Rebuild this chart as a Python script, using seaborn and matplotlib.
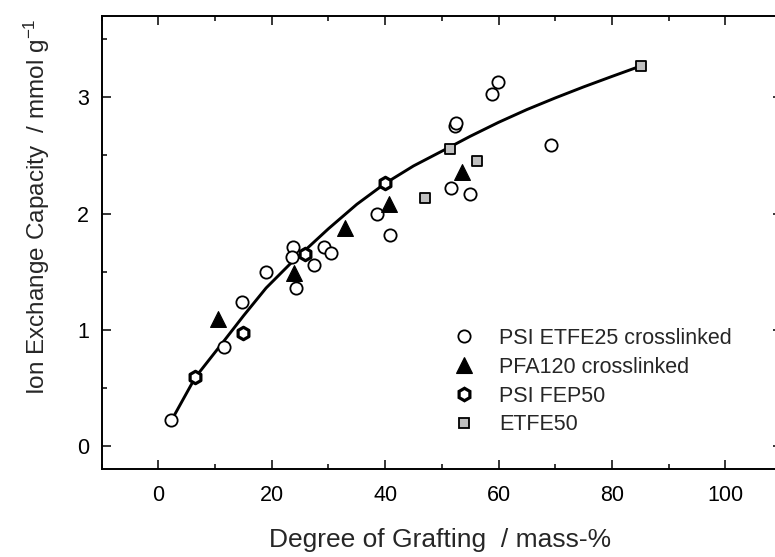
import matplotlib
matplotlib.use("Agg")
import matplotlib.pyplot as plt
from matplotlib.lines import Line2D
import pandas as pd
import seaborn as sns

# Measured ion exchange capacity vs. degree of grafting
psi_etfe25_x = [2.3, 11.5, 14.8, 18.9, 23.8, 23.5, 24.2, 27.5, 29.3, 30.4,
                38.6, 40.8, 51.6, 54.9, 52.3, 52.5, 58.9, 59.9, 69.2]
psi_etfe25_y = [0.22, 0.85, 1.24, 1.50, 1.71, 1.63, 1.36, 1.56, 1.71, 1.66,
                2.00, 1.82, 2.22, 2.17, 2.75, 2.78, 3.03, 3.13, 2.59]
pfa120_x = [10.6, 23.9, 32.9, 40.6, 53.6]
pfa120_y = [1.09, 1.49, 1.88, 2.08, 2.36]
fep50_x = [6.5, 14.9, 25.9, 40.0]
fep50_y = [0.59, 0.97, 1.65, 2.26]
etfe50_x = [47.0, 51.5, 56.2, 85.1]
etfe50_y = [2.13, 2.56, 2.45, 3.27]

# Trend line
fit_x = [2.3, 6.5, 11.5, 15.0, 19.0, 23.5, 26.0, 30.0, 35.0, 40.0, 45.0,
         51.5, 55.0, 60.0, 65.0, 70.0, 75.0, 80.0, 85.1]
fit_y = [0.22, 0.59, 0.90, 1.12, 1.36, 1.58, 1.69, 1.87, 2.08, 2.26, 2.41,
         2.575, 2.665, 2.785, 2.895, 2.995, 3.09, 3.18, 3.27]

series_labels = ["PSI ETFE25 crosslinked", "PFA120 crosslinked", "PSI FEP50", "ETFE50"]
x_ticks = [0, 20, 40, 60, 80, 100]
y_ticks = [0, 1, 2, 3]

sns.set_theme(style="ticks")
plt.rcParams["font.family"] = ["Liberation Sans", "DejaVu Sans"]
plt.rcParams["mathtext.default"] = "regular"

W, H = 775, 557
fig = plt.figure(figsize=(W / 100, H / 100), dpi=100)
ax = fig.add_axes([101.7 / W, 1 - 469.3 / H, (782 - 101.7) / W, (469.3 - 16) / H])

fit_df = pd.DataFrame({"x": fit_x, "y": fit_y})
sns.lineplot(data=fit_df, x="x", y="y", sort=False, color="black", lw=2.1,
             ax=ax, zorder=2)

styles = [
    dict(marker="o", s=78, facecolor="white", edgecolor="black", linewidth=1.3),
    dict(marker="^", s=130, facecolor="black", edgecolor="black", linewidth=0.8),
    dict(marker="h", s=80, facecolor="white", edgecolor="black", linewidth=2.3),
    dict(marker="s", s=62, facecolor="#c0c0c0", edgecolor="black", linewidth=1.3),
]
data = [(psi_etfe25_x, psi_etfe25_y), (pfa120_x, pfa120_y),
        (fep50_x, fep50_y), (etfe50_x, etfe50_y)]
for (xs, ys), st in zip(data, styles):
    df = pd.DataFrame({"x": xs, "y": ys})
    sns.scatterplot(data=df, x="x", y="y", ax=ax, zorder=3, **st)

ax.set_xticks(x_ticks)
ax.set_yticks(y_ticks)
ax.set_xticks([v + 10 for v in [-20] + x_ticks], minor=True)
ax.set_yticks([-0.5, 0.5, 1.5, 2.5, 3.5], minor=True)
ax.set_xlim(-10, 110)
ax.set_ylim(-0.2, 3.7)
ax.tick_params(which="both", direction="in", top=True, right=True,
               width=1.1, color="black")
ax.tick_params(which="major", length=6.5, labelsize=15.5, pad=11, labelcolor="black")
ax.tick_params(axis="y", which="major", pad=9)
ax.tick_params(which="minor", length=3.8)
for sp in ax.spines.values():
    sp.set_linewidth(1.4)
    sp.set_color("black")
ax.set_xlabel("")
ax.set_ylabel("")

fig.text(440 / W, 1 - 540 / H, "Degree of Grafting  / mass-%", fontsize=19,
         ha="center", va="center")
fig.text(37 / W, 1 - 207 / H, "Ion Exchange Capacity  / mmol g$^{-1}$",
         fontsize=17.5, rotation=90, ha="center", va="center")

handles = []
for st in styles:
    handles.append(Line2D([], [], linestyle="none", marker=st["marker"],
                          markersize=st["s"] ** 0.5,
                          markerfacecolor=st["facecolor"],
                          markeredgecolor=st["edgecolor"],
                          markeredgewidth=st["linewidth"]))
ax.legend(handles, series_labels, loc="upper left",
          bbox_to_anchor=(453 / W, 1 - 328 / H), bbox_transform=fig.transFigure,
          frameon=False, fontsize=15.5, handlelength=1.0, handletextpad=1.15,
          labelspacing=0.36, borderpad=0, borderaxespad=0)

fig.savefig("out.png", dpi=100)
